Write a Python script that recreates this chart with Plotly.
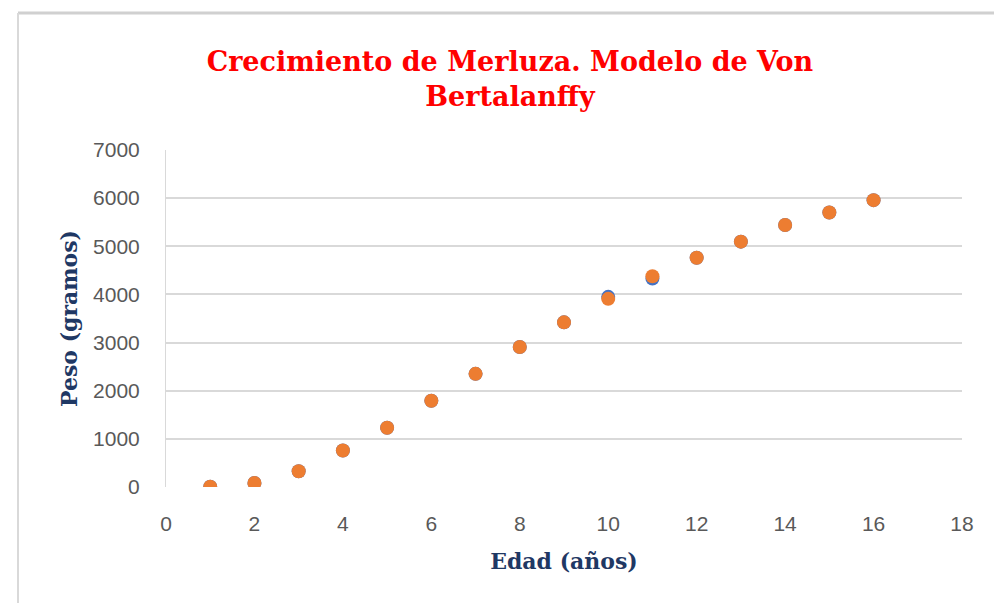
import plotly.graph_objects as go

# Data
edad = [1, 2, 3, 4, 5, 6, 7, 8, 9, 10, 11, 12, 13, 14, 15, 16]
peso_observado = [5, 83, 327, 758, 1230, 1793, 2350, 2907, 3420, 3950, 4330, 4762, 5096, 5443, 5702, 5958]
peso_modelo = [5, 83, 327, 758, 1230, 1793, 2350, 2907, 3420, 3908, 4377, 4762, 5096, 5443, 5702, 5958]
x_ticks = [0, 2, 4, 6, 8, 10, 12, 14, 16, 18]
y_ticks = [0, 1000, 2000, 3000, 4000, 5000, 6000, 7000]

W, H = 994, 603
L, R, T, B = 166, 32, 150, 116
pw, ph = W - L - R, H - T - B


def px(X):
    return (X - L) / pw


def py(Y):
    return (H - B - Y) / ph


fig = go.Figure()
fig.add_trace(go.Scatter(
    x=edad, y=peso_observado, mode="markers", name="Observado",
    marker=dict(color="#4472C4", size=14, line=dict(width=0)),
))
fig.add_trace(go.Scatter(
    x=edad, y=peso_modelo, mode="markers", name="Modelo",
    marker=dict(color="#ED7D31", size=14, line=dict(width=0)),
))

serif = "DejaVu Serif, Liberation Serif, serif"
sans = "Liberation Sans, Arial, sans-serif"

fig.update_layout(
    width=W, height=H,
    margin=dict(l=L, r=R, t=T, b=B),
    paper_bgcolor="white", plot_bgcolor="white",
    showlegend=False,
    title=dict(
        text="<b>Crecimiento de Merluza. Modelo de Von<br>Bertalanffy</b>",
        font=dict(family=serif, size=27, color="#FF0000"),
        x=0.513, xanchor="center", y=1 - 71 / H, yanchor="middle",
    ),
    xaxis=dict(
        range=[0, 18], tickvals=x_ticks, showgrid=False, zeroline=False,
        showline=False, ticks="", ticklabelstandoff=22,
        tickfont=dict(family=sans, size=21, color="#595959"),
        title=dict(text="<b>Edad (años)</b>", standoff=19,
                   font=dict(family=serif, size=22, color="#1F3864")),
    ),
    yaxis=dict(
        range=[0, 7000], tickvals=y_ticks, showgrid=True, gridcolor="#D9D9D9",
        gridwidth=1.5, zeroline=False, showline=True, linecolor="#D9D9D9",
        ticks="", ticklabelstandoff=21,
        tickfont=dict(family=sans, size=21, color="#595959"),
        title=dict(text="<b>Peso (gramos)</b>", standoff=9,
                   font=dict(family=serif, size=22, color="#1F3864")),
    ),
)

# Spreadsheet frame around the chart (light grey border lines)
fig.add_shape(type="line", xref="paper", yref="paper",
              x0=px(18), x1=px(994), y0=py(13), y1=py(13),
              line=dict(color="#D0D0D0", width=3))
fig.add_shape(type="line", xref="paper", yref="paper",
              x0=px(18), x1=px(18), y0=py(13), y1=py(603),
              line=dict(color="#D9D9D9", width=2))

fig.write_html("out.html", config={"displayModeBar": False},
               post_script="document.body.style.margin='0';")
